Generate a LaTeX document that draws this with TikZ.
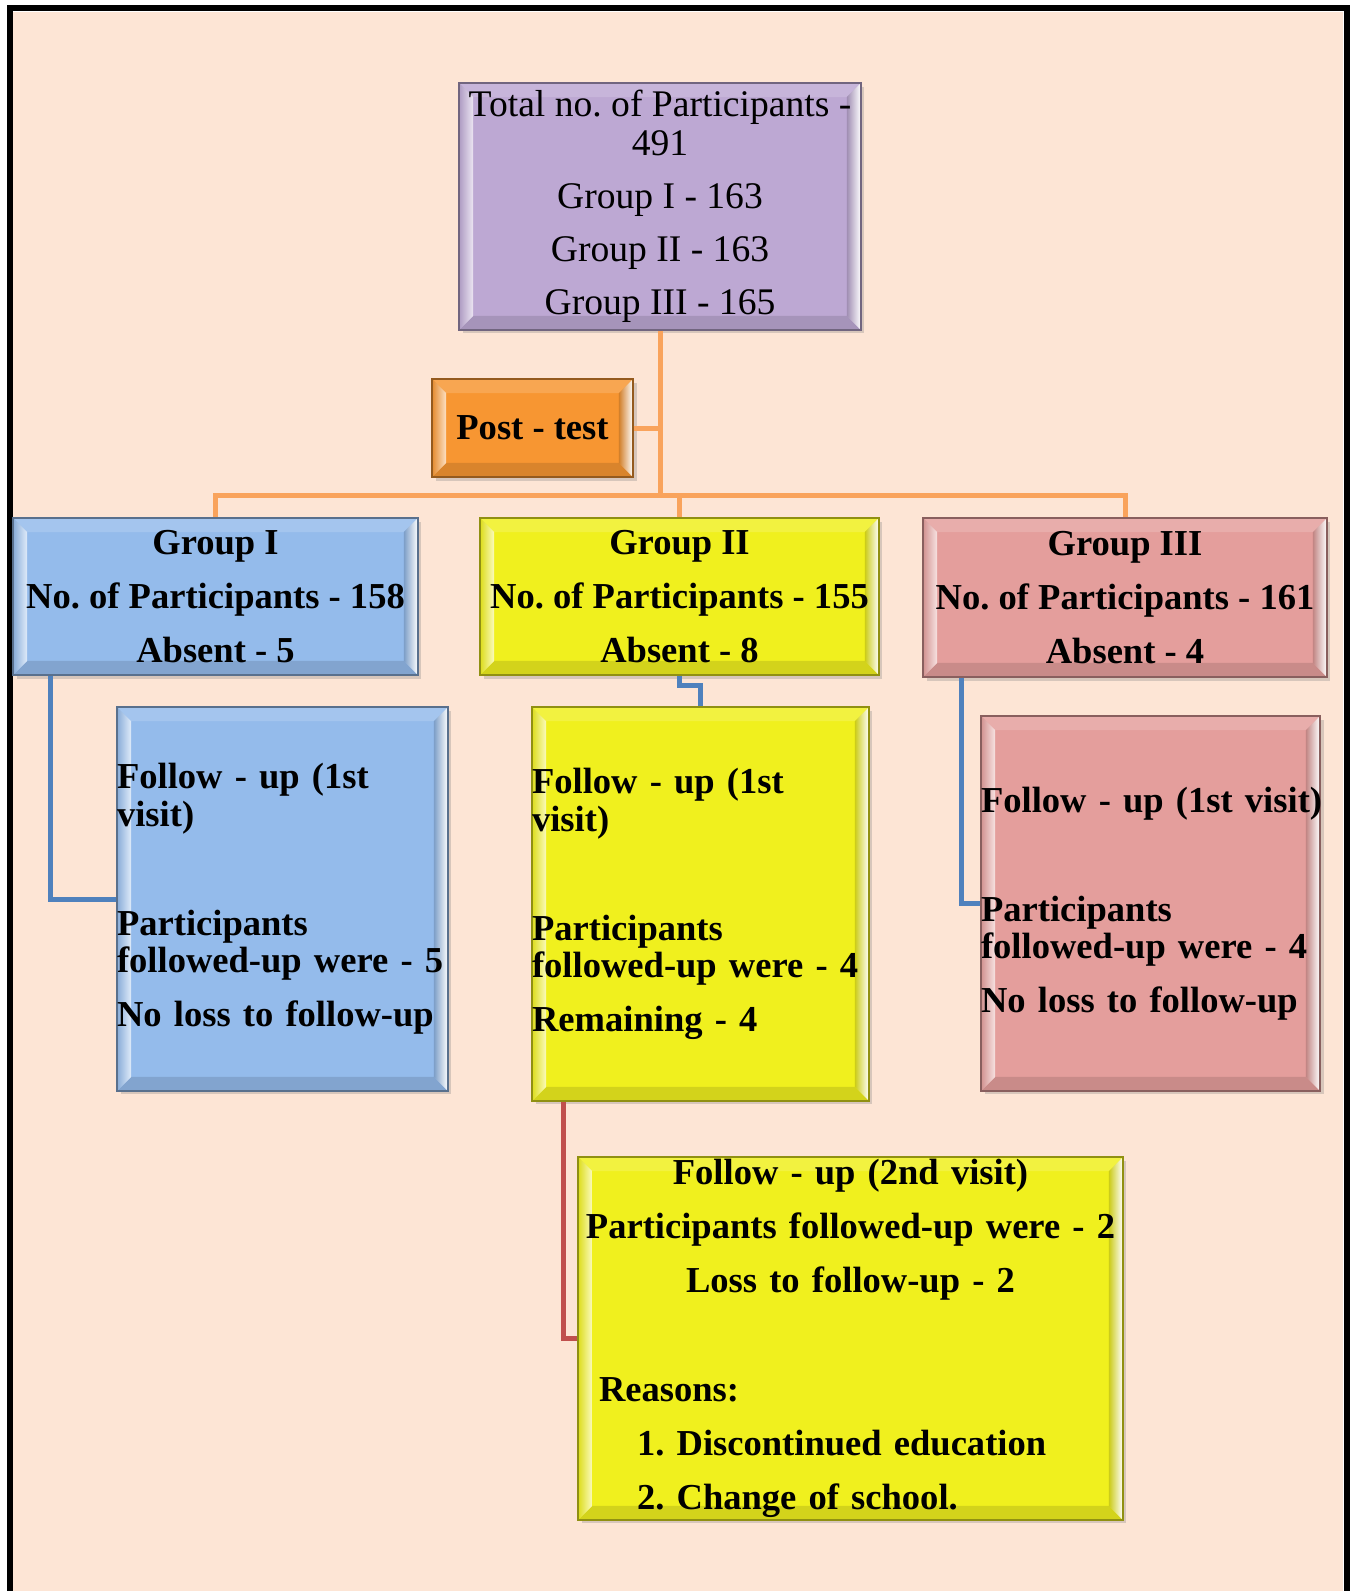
\documentclass[tikz,border=0pt]{standalone}
\usepackage{fontspec}
\setmainfont{Liberation Serif}
\usetikzlibrary{shadows}

\definecolor{bgC}{HTML}{FDE5D5}
\definecolor{purpleC}{HTML}{BDA8D3}
\definecolor{orangeC}{HTML}{F79632}
\definecolor{blueC}{HTML}{94BBEB}
\definecolor{yellowC}{HTML}{F0F01E}
\definecolor{pinkC}{HTML}{E49E9C}
\definecolor{oLineC}{HTML}{F9A35C}
\definecolor{bLineC}{HTML}{4F81BD}
\definecolor{rLineC}{HTML}{C0504D}

\newcommand\bev{0.28cm}

\begin{document}
\begin{tikzpicture}[x=0.02cm, y=-0.02cm,
  box/.style={
    draw=#1!60!black, line width=0.8pt, fill=#1, inner sep=0pt,
    drop shadow={opacity=0.3, shadow xshift=2pt, shadow yshift=-2pt},
    path picture={
      \coordinate (bNW) at (path picture bounding box.north west);
      \coordinate (bNE) at (path picture bounding box.north east);
      \coordinate (bSW) at (path picture bounding box.south west);
      \coordinate (bSE) at (path picture bounding box.south east);
      % top and bottom bevel faces
      \fill[#1!85!white] (bNW) -- (bNE) -- ([shift={(-\bev,-\bev)}]bNE) -- ([shift={(\bev,-\bev)}]bNW) -- cycle;
      \fill[#1!88!black] (bSW) -- (bSE) -- ([shift={(-\bev,\bev)}]bSE) -- ([shift={(\bev,\bev)}]bSW) -- cycle;
      % left and right bevel faces, lit from the sides
      \shade[left color=#1!92!black, right color=#1!30!white] (bNW) -- (bSW) -- ([shift={(\bev,\bev)}]bSW) -- ([shift={(\bev,-\bev)}]bNW) -- cycle;
      \shade[left color=#1!85!black, right color=white] (bNE) -- (bSE) -- ([shift={(-\bev,\bev)}]bSE) -- ([shift={(-\bev,-\bev)}]bNE) -- cycle;
    }},
  plain/.style={font=\fontsize{21.4}{22}\selectfont\frenchspacing},
  bold/.style={font=\fontsize{20.8}{21.3}\selectfont\bfseries\frenchspacing},
  oline/.style={draw=oLineC, line width=0.1cm},
  bline/.style={draw=bLineC, line width=0.1cm},
  rline/.style={draw=rLineC, line width=0.1cm}]

\useasboundingbox (0,0) rectangle (1356,1591);
\fill[white] (0,0) rectangle (1356,1591);
\fill[bgC] (13,12) rectangle (1343,1591);
\draw[line width=0.12cm] (10,1591) -- (10,8.5) -- (1346.5,8.5) -- (1346.5,1591);

% overall count
\node[box=purpleC, plain, align=center, minimum width=8.04cm, minimum height=4.94cm] (top) at (660,206.5)
  {Total no. of Participants -\\491\\[8.2pt]Group I - 163\\[8.2pt]Group II - 163\\[8.2pt]Group III - 165};

\node[box=orangeC, bold, minimum width=4.02cm, minimum height=1.96cm] (post) at (532.5,428) {Post - test};

% the three groups
\node[box=blueC, bold, align=center, minimum width=8.10cm, minimum height=3.14cm] (g1) at (215.5,596.5)
  {Group I\\[9.4pt]No. of Participants - 158\\[9.4pt]Absent - 5};
\node[box=yellowC, bold, align=center, minimum width=7.98cm, minimum height=3.14cm] (g2) at (679.5,596.5)
  {Group II\\[9.4pt]No. of Participants - 155\\[9.4pt]Absent - 8};
\node[box=pinkC, bold, align=center, minimum width=8.08cm, minimum height=3.18cm] (g3) at (1125,597.5)
  {Group III\\[9.4pt]No. of Participants - 161\\[9.4pt]Absent - 4};

% first follow-up visit
\node[box=blueC, bold, align=left, text width=6.62cm, minimum height=7.68cm] (f1) at (282.5,899)
  {\mbox{Follow - up (1st}\\visit)\\[40.7pt]Participants\\\mbox{followed-up were - 5}\\[9.4pt]\mbox{No loss to follow-up}};
\node[box=yellowC, bold, align=left, text width=6.74cm, minimum height=7.88cm] (f2) at (700.5,904)
  {\mbox{Follow - up (1st}\\visit)\\[40.7pt]Participants\\\mbox{followed-up were - 4}\\[9.4pt]Remaining - 4};
\node[box=pinkC, bold, align=left, text width=6.78cm, minimum height=7.50cm] (f3) at (1150.5,903.5)
  {\mbox{Follow - up (1st visit)}\\[40.7pt]Participants\\\mbox{followed-up were - 4}\\[9.4pt]\mbox{No loss to follow-up}};

% second follow-up visit
\node[box=yellowC, bold, align=center, text width=10.9cm, minimum height=7.26cm] (v2) at (850.5,1338.5)
  {Follow - up (2nd visit)\\[9.4pt]Participants followed-up were - 2\\[9.4pt]Loss to follow-up - 2\\[40.7pt]%
   \makebox[10.9cm][l]{\hspace*{0.42cm}Reasons:}\\[9.4pt]%
   \makebox[10.9cm][l]{\hspace*{1.18cm}1. Discontinued education}\\[9.4pt]%
   \makebox[10.9cm][l]{\hspace*{1.18cm}2. Change of school.}};

% connectors
\coordinate (bus) at (661,495);
\draw[oline] (top.south) -- (top.south |- bus) -| (g1.north);
\draw[oline] (top.south |- bus) -| (g2.north);
\draw[oline] (top.south |- bus) -| (g3.north);
\draw[oline] (post.east) -- (post.east -| top.south);

\draw[bline] ([xshift=0.76cm]g1.south west) |- (f1.west);
\draw[bline] (g2.south) -- ++(0,10) -| (f2.north);
\draw[bline] ([xshift=0.78cm]g3.south west) |- (f3.west);
\draw[rline] ([xshift=0.64cm]f2.south west) |- (v2.west);
\end{tikzpicture}
\end{document}
